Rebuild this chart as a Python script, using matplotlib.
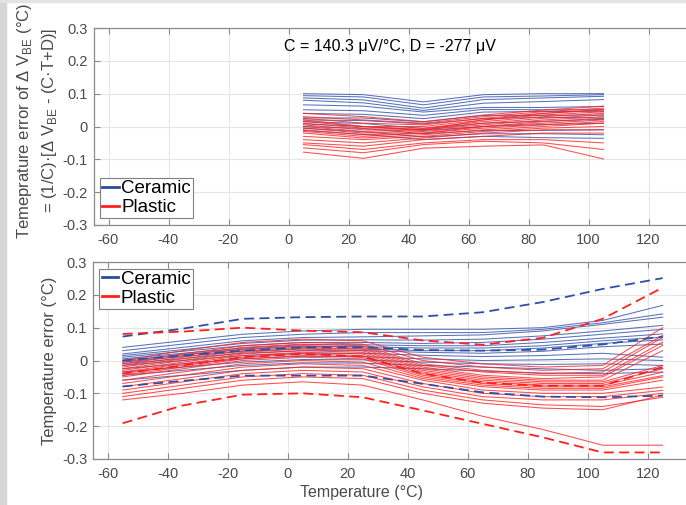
import matplotlib
matplotlib.use("Agg")
import matplotlib.pyplot as plt
from matplotlib.lines import Line2D
from matplotlib.patches import Rectangle

plt.rcParams['font.family'] = ['Liberation Sans', 'DejaVu Sans']
plt.rcParams['mathtext.fontset'] = 'custom'
plt.rcParams['mathtext.rm'] = 'Liberation Sans'
plt.rcParams['axes.unicode_minus'] = False

# temperatures of the two panels
temp_top = [5, 25, 45, 65, 85, 105]
temp_bot = [-55, -35, -15, 5, 25, 45, 65, 85, 105, 125]

# top panel: error of delta V_BE, one row per device
ceramic_top = [
    [0.100, 0.097, 0.075, 0.097, 0.100, 0.100],
    [0.094, 0.090, 0.066, 0.090, 0.093, 0.097],
    [0.087, 0.081, 0.056, 0.082, 0.087, 0.092],
    [0.080, 0.072, 0.049, 0.071, 0.076, 0.082],
    [0.066, 0.062, 0.044, 0.058, 0.058, 0.061],
    [0.051, 0.048, 0.034, 0.052, 0.051, 0.051],
    [0.040, 0.037, 0.024, 0.044, 0.046, 0.045],
    [0.026, 0.026, 0.014, 0.034, 0.034, 0.035],
    [0.020, 0.018, 0.008, 0.024, 0.028, 0.026],
    [0.015, 0.009, -0.006, 0.010, 0.016, 0.022],
    [0.008, 0.000, -0.012, 0.000, 0.006, 0.010],
    [0.000, -0.006, -0.022, -0.012, -0.012, -0.010],
    [-0.005, -0.016, -0.032, -0.022, -0.022, -0.025],
    [-0.012, -0.024, -0.040, -0.030, -0.034, -0.036],
]
plastic_top = [
    [0.040, 0.030, 0.015, 0.035, 0.050, 0.062],
    [0.030, 0.020, 0.010, 0.030, 0.045, 0.056],
    [0.025, 0.010, 0.005, 0.025, 0.040, 0.050],
    [0.020, 0.000, 0.000, 0.020, 0.035, 0.045],
    [0.015, 0.000, -0.010, 0.020, 0.040, 0.052],
    [0.010, -0.005, -0.005, 0.015, 0.030, 0.040],
    [0.005, -0.010, -0.010, 0.010, 0.025, 0.035],
    [0.000, -0.015, -0.010, 0.005, 0.020, 0.030],
    [-0.005, -0.020, -0.015, 0.000, 0.015, 0.025],
    [-0.010, -0.025, -0.020, 0.000, 0.010, 0.020],
    [-0.015, -0.030, -0.020, -0.005, 0.005, 0.015],
    [-0.020, -0.035, -0.025, -0.010, 0.000, 0.010],
    [-0.030, -0.040, -0.030, -0.015, -0.005, 0.000],
    [-0.040, -0.050, -0.035, -0.020, -0.010, -0.010],
    [-0.050, -0.060, -0.040, -0.030, -0.020, -0.020],
    [-0.055, -0.070, -0.050, -0.040, -0.040, -0.050],
    [-0.065, -0.080, -0.055, -0.045, -0.050, -0.070],
    [-0.078, -0.097, -0.066, -0.060, -0.056, -0.099],
]

# bottom panel: temperature error, one row per device
ceramic_bot = [
    [0.040, 0.060, 0.080, 0.090, 0.095, 0.095, 0.095, 0.100, 0.122, 0.168],
    [0.030, 0.050, 0.070, 0.080, 0.085, 0.085, 0.085, 0.095, 0.115, 0.142],
    [0.020, 0.040, 0.060, 0.070, 0.072, 0.075, 0.078, 0.090, 0.110, 0.132],
    [0.015, 0.033, 0.052, 0.062, 0.063, 0.062, 0.065, 0.075, 0.090, 0.107],
    [0.010, 0.028, 0.045, 0.055, 0.055, 0.052, 0.055, 0.065, 0.080, 0.095],
    [0.005, 0.022, 0.038, 0.048, 0.048, 0.045, 0.045, 0.055, 0.068, 0.081],
    [0.000, 0.018, 0.034, 0.043, 0.042, 0.038, 0.038, 0.045, 0.060, 0.071],
    [-0.005, 0.012, 0.028, 0.036, 0.035, 0.030, 0.030, 0.038, 0.052, 0.063],
    [-0.010, 0.006, 0.022, 0.030, 0.030, 0.025, 0.022, 0.028, 0.042, 0.050],
    [-0.015, 0.000, 0.015, 0.022, 0.022, 0.016, 0.012, 0.015, 0.022, 0.010],
    [-0.025, -0.010, 0.005, 0.013, 0.012, 0.005, 0.000, 0.002, 0.005, 0.000],
    [-0.035, -0.020, -0.005, 0.003, 0.002, -0.005, -0.010, -0.012, -0.010, -0.015],
    [-0.045, -0.030, -0.015, -0.007, -0.008, -0.015, -0.020, -0.025, -0.030, -0.025],
    [-0.060, -0.045, -0.030, -0.020, -0.020, -0.025, -0.032, -0.038, -0.040, -0.035],
]
plastic_bot = [
    [0.000, 0.030, 0.055, 0.065, 0.060, 0.010, -0.010, -0.020, -0.015, 0.100],
    [-0.005, 0.020, 0.045, 0.055, 0.050, 0.000, -0.020, -0.030, -0.025, 0.076],
    [-0.010, 0.015, 0.040, 0.050, 0.045, -0.010, -0.030, -0.040, -0.035, 0.070],
    [-0.015, 0.010, 0.035, 0.045, 0.040, -0.015, -0.035, -0.045, -0.045, 0.056],
    [-0.020, 0.005, 0.030, 0.040, 0.035, -0.020, -0.045, -0.055, -0.050, 0.046],
    [-0.025, 0.000, 0.025, 0.035, 0.030, -0.025, -0.050, -0.060, -0.060, 0.030],
    [-0.030, -0.005, 0.020, 0.030, 0.025, -0.030, -0.055, -0.065, -0.065, -0.015],
    [-0.035, -0.010, 0.015, 0.025, 0.020, -0.035, -0.060, -0.070, -0.070, -0.025],
    [-0.040, -0.015, 0.010, 0.020, 0.015, -0.040, -0.065, -0.075, -0.075, -0.036],
    [-0.045, -0.020, 0.005, 0.015, 0.010, -0.045, -0.070, -0.080, -0.080, -0.046],
    [-0.050, -0.025, 0.000, 0.010, 0.005, -0.050, -0.075, -0.085, -0.085, -0.050],
    [-0.060, -0.035, -0.010, 0.000, -0.005, -0.055, -0.080, -0.090, -0.090, -0.060],
    [-0.070, -0.045, -0.020, -0.010, -0.015, -0.060, -0.090, -0.100, -0.100, -0.081],
    [-0.080, -0.055, -0.030, -0.020, -0.025, -0.070, -0.100, -0.110, -0.110, -0.091],
    [-0.090, -0.065, -0.040, -0.030, -0.035, -0.080, -0.110, -0.120, -0.120, -0.100],
    [-0.100, -0.075, -0.050, -0.040, -0.045, -0.090, -0.120, -0.135, -0.140, -0.112],
    [-0.110, -0.085, -0.060, -0.050, -0.055, -0.100, -0.130, -0.145, -0.150, -0.105],
    [-0.120, -0.100, -0.075, -0.065, -0.075, -0.120, -0.170, -0.210, -0.258, -0.258],
]

# dashed envelopes (upper, mean, lower)
ceramic_dash = [
    [0.073, 0.097, 0.127, 0.132, 0.134, 0.134, 0.147, 0.178, 0.218, 0.251],
    [0.000, 0.015, 0.030, 0.040, 0.040, 0.032, 0.030, 0.033, 0.049, 0.073],
    [-0.079, -0.062, -0.046, -0.046, -0.046, -0.071, -0.097, -0.110, -0.112, -0.107],
]
plastic_dash = [
    [0.081, 0.088, 0.100, 0.091, 0.086, 0.061, 0.048, 0.069, 0.127, 0.222],
    [-0.040, -0.015, 0.010, 0.020, 0.012, -0.040, -0.068, -0.077, -0.077, -0.020],
    [-0.191, -0.137, -0.104, -0.100, -0.112, -0.152, -0.193, -0.234, -0.280, -0.280],
]

y_ticks = [-0.3, -0.2, -0.1, 0, 0.1, 0.2, 0.3]
y_labels = ['-0.3', '-0.2', '-0.1', '0', '0.1', '0.2', '0.3']
x_ticks = [-60, -40, -20, 0, 20, 40, 60, 80, 100, 120]

blue = '#2f4fa6'
red = '#ff1f1f'
spine_c = '#8a8a8a'
text_c = '#4a4a4a'

W, H = 686, 505
fig = plt.figure(figsize=(W / 100, H / 100), dpi=100)
fig.patches.append(Rectangle((0, 0), 6 / W, 1, transform=fig.transFigure,
                             color='#d6d6d6', zorder=0))
fig.patches.append(Rectangle((0, 1 - 2 / H), 1, 2 / H, transform=fig.transFigure,
                             color='#e2e2e2', zorder=0))

ax1 = fig.add_axes([93.5 / W, 1 - 225 / H, 600 / W, 197 / H])
ax2 = fig.add_axes([92.7 / W, 1 - 459 / H, 600 / W, 197 / H])


def style(ax):
    ax.set_xlim(-65, 135)
    ax.set_ylim(-0.3, 0.3)
    ax.set_xticks(x_ticks)
    ax.set_xticklabels([str(t) for t in x_ticks])
    ax.set_yticks(y_ticks)
    ax.set_yticklabels(y_labels)
    ax.grid(True, color='#e6e6e6', linewidth=0.8)
    ax.set_axisbelow(True)
    for s in ['left', 'bottom', 'top']:
        ax.spines[s].set_color(spine_c)
        ax.spines[s].set_linewidth(0.9)
    ax.spines['right'].set_visible(False)
    ax.tick_params(direction='in', length=4, width=0.8, color=spine_c,
                   labelcolor=text_c, labelsize=10.5, top=True)
    ax.tick_params(axis='x', pad=6)
    ax.tick_params(axis='y', pad=4)


def legend(ax, loc):
    handles = [Line2D([], [], color='#2b4c9e', lw=2),
               Line2D([], [], color='#ff2020', lw=2)]
    lg = ax.legend(handles, ['Ceramic', 'Plastic'], loc=loc, fontsize=13.5,
                   handlelength=0.9, handletextpad=0.12, borderpad=0.12,
                   labelspacing=0.1, borderaxespad=0.35, fancybox=False,
                   framealpha=1, edgecolor='#808080')
    lg.get_frame().set_linewidth(0.8)


style(ax1)
for row in ceramic_top:
    ax1.plot(temp_top, row, color=blue, lw=0.75, alpha=0.8)
for row in plastic_top:
    ax1.plot(temp_top, row, color=red, lw=0.75, alpha=0.8)
legend(ax1, 'lower left')
ax1.text(0.494, 0.905, 'C = 140.3 μV/°C, D = -277 μV', transform=ax1.transAxes,
         ha='center', va='center', fontsize=11.5, color='black')
ax1.set_ylabel('Temeprature error of Δ V$_{\\mathrm{BE}}$ (°C)\n'
               '= (1/C)·[Δ V$_{\\mathrm{BE}}$ - (C·T+D)]',
               fontsize=12, color=text_c, linespacing=1.45)
ax1.yaxis.label.set_verticalalignment('center')
ax1.yaxis.set_label_coords((37 - 93.5) / 600, 0.53)

style(ax2)
for row in ceramic_bot:
    ax2.plot(temp_bot, row, color=blue, lw=0.75, alpha=0.8)
for row in plastic_bot:
    ax2.plot(temp_bot, row, color=red, lw=0.75, alpha=0.8)
for row in ceramic_dash:
    ax2.plot(temp_bot, row, color=blue, lw=1.3, dashes=(5.5, 3))
for row in plastic_dash:
    ax2.plot(temp_bot, row, color=red, lw=1.3, dashes=(5.5, 3))
legend(ax2, 'upper left')
ax2.set_ylabel('Temperature error (°C)', fontsize=12, color=text_c)
ax2.yaxis.label.set_verticalalignment('center')
ax2.yaxis.set_label_coords((49 - 92.7) / 600, 0.5)
ax2.set_xlabel('Temperature (°C)', fontsize=11.5, color=text_c)
ax2.xaxis.set_label_coords((362 - 92.7) / 600, -0.13)

fig.savefig('out.png', dpi=100)
